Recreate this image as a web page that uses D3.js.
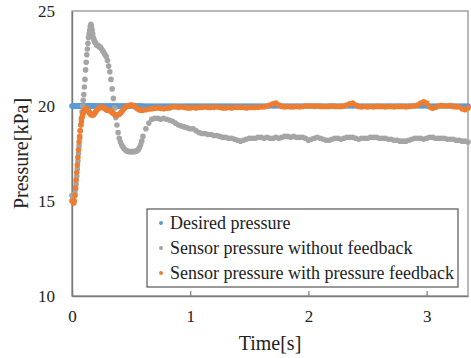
<!DOCTYPE html>
<html>
<head>
<meta charset="utf-8">
<script src="https://cdn.jsdelivr.net/npm/d3@7/dist/d3.min.js"></script>
<style>
	body { margin: 0; background: white; }
	svg { display: block; }
	text { font-family: "Liberation Serif", "Times New Roman", serif; }
</style>
</head>
<body>
<script>

//****************************************************************************************************************************//
// Data

var xTicks = [0, 1, 2, 3];
var yTicks = [10, 15, 20, 25];
var legendNames = ["Desired pressure", "Sensor pressure without feedback", "Sensor pressure with pressure feedback"];
var desiredPressure = 20;

// sample grids : 0 - 0.2 s every 5 ms, 0.21 - 0.6 s every 10 ms, 0.625 - 3.35 s every 25 ms
var gridA = { start : 0, step : 0.005 };
var gridB = { start : 0.21, step : 0.01 };
var gridC = { start : 0.625, step : 0.025 };

var noFeedbackA = [15.3,15.3,15.2,15.2,15.3,15.4,15.6,15.9,16.3,16.7, 17.1,17.5,17.9,18.3,18.7,19.0,19.35,19.7,20.0,20.3,
	20.6,21.0,21.4,21.9,22.3,22.7,23.0,23.3,23.6,23.8, 24.0,24.2,24.3,24.2,24.0,23.8,23.6,23.5,23.4,23.35, 23.3];
var noFeedbackB = [23.2,23.2,23.1,23.1,23.0,22.9,22.8,22.7,22.6,22.4, 22.1,21.8,21.4,20.9,20.4,19.9,19.4,19.0,18.6,18.3,
	18.1,17.95,17.85,17.75,17.7,17.65,17.62,17.6,17.6,17.6, 17.6,17.6,17.6,17.62,17.65,17.7,17.8,17.95,18.15,18.4];
var noFeedbackC = [18.8,19.1,19.3,19.35,19.35,19.3,19.35,19.3,19.25,19.2, 19.1,19.0,18.95,18.9,18.85,18.8,18.8,18.7,18.6,18.55,
	18.55,18.5,18.5,18.45,18.45,18.4,18.35,18.35,18.3,18.3, 18.25,18.2,18.15,18.2,18.25,18.3,18.3,18.3,18.35,18.35,
	18.3,18.35,18.3,18.3,18.35,18.3,18.35,18.4,18.4,18.35, 18.4,18.35,18.35,18.35,18.3,18.2,18.25,18.3,18.35,18.3,
	18.25,18.2,18.2,18.25,18.3,18.3,18.25,18.3,18.35,18.35, 18.35,18.3,18.25,18.3,18.3,18.3,18.35,18.35,18.35,18.3,
	18.3,18.3,18.25,18.25,18.2,18.2,18.15,18.15,18.15,18.2, 18.25,18.3,18.3,18.3,18.25,18.3,18.35,18.35,18.3,18.3,
	18.3,18.3,18.25,18.25,18.25,18.2,18.2,18.15,18.15,18.1];

var feedbackA = [15.0,15.0,14.95,14.9,15.0,15.3,15.7,16.1,16.5,16.9, 17.3,17.7,18.1,18.4,18.7,19.0,19.2,19.4,19.55,19.65,
	19.7,19.75,19.8,19.82,19.85,19.85,19.82,19.78,19.72,19.67, 19.62,19.58,19.55,19.54,19.53,19.53,19.54,19.57,19.6,19.65, 19.7];
var feedbackB = [19.78,19.85,19.9,19.93,19.95,19.93,19.9,19.85,19.8,19.78, 19.77,19.76,19.72,19.66,19.6,19.56,19.54,19.53,19.54,19.57,
	19.62,19.7,19.78,19.85,19.92,19.97,20.0,20.03,20.04,20.05, 20.04,20.02,19.98,19.93,19.88,19.83,19.8,19.78,19.77,19.78];
var feedbackC = [19.8,19.84,19.86,19.88,19.9,19.88,19.86,19.88,19.9,19.95, 19.95,19.93,19.95,19.93,19.9,19.9,19.92,19.9,19.92,19.93,
	19.95,19.93,19.92,19.93,19.95,19.92,19.9,19.9,19.92,19.9, 19.92,19.93,19.93,19.92,19.9,19.92,19.93,19.92,19.93,19.95,
	19.95,20.0,20.05,20.12,20.15,20.05,19.98,19.95,19.97,19.95, 19.95,19.97,19.95,19.97,20.0,20.0,20.0,19.98,20.0,19.98,
	19.97,19.97,19.98,20.0,19.98,19.97,19.98,20.0,20.05,20.12, 20.15,20.05,19.97,19.95,19.97,19.95,19.97,19.95,19.97,19.98,
	19.97,19.95,19.97,19.97,19.95,19.97,19.98,19.97,19.95,19.97, 20.0,20.0,20.05,20.15,20.22,20.15,19.95,19.88,19.92,20.0,
	20.02,20.0,20.0,20.02,19.98,19.95,19.95,19.85,19.8,19.9];

var colours = ["#5b9bd5", "#a5a5a5", "#ed7d31"];

//****************************************************************************************************************************//
// Canvas

var width = 471, height = 358;
var plot = { left : 72, right : 468, top : 11, bottom : 296 };
var serif = "'Liberation Serif', 'Times New Roman', serif";

var canvas = d3.select("body").append("svg")
				.attr("width", width)
				.attr("height", height)
				.attr("font-family", serif);

var xScale = d3.scaleLinear().domain([0, 3.35]).range([plot.left, plot.right]);
var yScale = d3.scaleLinear().domain([10, 25]).range([plot.bottom, plot.top]);

function samples(grid, values){
	return values.map(function(v, i){ return { t : grid.start + i*grid.step, p : v }; });
}

var noFeedback = samples(gridA, noFeedbackA).concat(samples(gridB, noFeedbackB), samples(gridC, noFeedbackC));
var feedback = samples(gridA, feedbackA).concat(samples(gridB, feedbackB), samples(gridC, feedbackC));
var desired = feedback.map(function(d){ return { t : d.t, p : desiredPressure }; });

//****************************************************************************************************************************//
// Frame and axes

canvas.append("rect")
	.attr("x", plot.left)
	.attr("y", plot.top)
	.attr("width", plot.right - plot.left)
	.attr("height", plot.bottom - plot.top)
	.attr("fill", "white")
	.attr("stroke", "#8a8a8a")
	.attr("stroke-width", 1.2);

var xAxis = canvas.append("g")
	.attr("transform", "translate(0," + plot.bottom + ")")
	.call(d3.axisBottom(xScale).tickValues(xTicks).tickFormat(d3.format("d")).tickSizeInner(-5).tickSizeOuter(0).tickPadding(14));

var yAxis = canvas.append("g")
	.attr("transform", "translate(" + plot.left + ",0)")
	.call(d3.axisLeft(yScale).tickValues(yTicks).tickFormat(d3.format("d")).tickSizeInner(0).tickSizeOuter(0).tickPadding(17));

[xAxis, yAxis].forEach(function(ax){
	ax.attr("font-family", serif);
	ax.select(".domain").attr("stroke", "#7a7a7a").attr("stroke-width", 1.4);
	ax.selectAll(".tick line").attr("stroke", "#7a7a7a").attr("stroke-width", 1.2);
	ax.selectAll(".tick text")
		.attr("fill", "#222")
		.style("font-size", "17px")
		.style("font-family", serif);
});

canvas.append("text")
	.attr("x", (plot.left + plot.right)/2)
	.attr("y", 350)
	.attr("text-anchor", "middle")
	.attr("fill", "#222")
	.style("font-size", "20px")
	.style("font-family", serif)
	.text("Time[s]");

canvas.append("text")
	.attr("transform", "translate(28," + (plot.top + plot.bottom)/2 + ") rotate(-90)")
	.attr("text-anchor", "middle")
	.attr("fill", "#222")
	.style("font-size", "20px")
	.style("font-family", serif)
	.text("Pressure[kPa]");

//****************************************************************************************************************************//
// Series (drawn as markers, desired first so the sensors sit on top)

[desired, noFeedback, feedback].forEach(function(series, k){
	canvas.append("g")
		.selectAll("circle")
		.data(series)
		.enter()
		.append("circle")
		.attr("cx", function(d){ return xScale(d.t); })
		.attr("cy", function(d){ return yScale(d.p); })
		.attr("r", 2.8)
		.attr("fill", colours[k]);
});

//****************************************************************************************************************************//
// Legend

var legend = canvas.append("g").attr("transform", "translate(147,209)");

legend.append("rect")
	.attr("width", 311)
	.attr("height", 78)
	.attr("fill", "white")
	.attr("stroke", "#555")
	.attr("stroke-width", 1.2);

legendNames.forEach(function(name, k){
	legend.append("circle")
		.attr("cx", 14)
		.attr("cy", 14 + k*25)
		.attr("r", 2)
		.attr("fill", colours[k]);
	legend.append("text")
		.attr("x", 23)
		.attr("y", 20 + k*25)
		.attr("fill", "#222")
		.style("font-size", "18px")
		.style("font-family", serif)
		.text(name);
});

</script>
</body>
</html>
